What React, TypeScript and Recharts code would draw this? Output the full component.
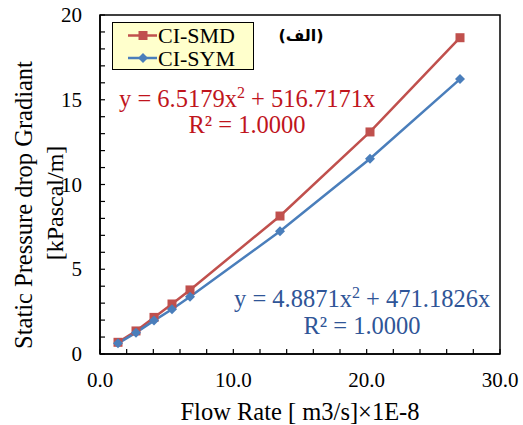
import { Legend, Line, LineChart, ReferenceArea, XAxis, YAxis } from 'recharts'

const flowRate = [1.35, 2.7, 4.05, 5.4, 6.75, 13.5, 20.25, 27.0]
const smdGradient = [0.69, 1.36, 2.16, 2.95, 3.78, 8.14, 13.1, 18.66]
const symGradient = [0.63, 1.26, 1.97, 2.64, 3.38, 7.24, 11.52, 16.22]
const xTicks = [0, 2, 4, 6, 8, 10, 12, 14, 16, 18, 20, 22, 24, 26, 28, 30]
const yTicks = [0, 1, 2, 3, 4, 5, 6, 7, 8, 9, 10, 11, 12, 13, 14, 15, 16, 17, 18, 19, 20]

const RED = '#c0504d'
const BLUE = '#4a7ebb'
const RED_TEXT = '#c0141c'
const BLUE_TEXT = '#2f5597'
const FONT = '"Liberation Serif", "Times New Roman", serif'

const data = flowRate.map((x, i) => ({ x, smd: smdGradient[i], sym: symGradient[i] }))

function Square({ cx, cy, color, size = 9 }: any) {
  if (cx == null || cy == null) return <g />
  return <rect x={cx - size / 2} y={cy - size / 2} width={size} height={size} fill={color} />
}

function Diamond({ cx, cy, color, size = 5 }: any) {
  if (cx == null || cy == null) return <g />
  return (
    <polygon
      points={`${cx},${cy - size} ${cx + size},${cy} ${cx},${cy + size} ${cx - size},${cy}`}
      fill={color}
    />
  )
}

function XTick({ x, y, payload }: any) {
  const v = payload.value as number
  return (
    <g>
      <line x1={x} y1={y} x2={x} y2={y - 5} stroke="#000" strokeWidth={1.2} />
      {v % 10 === 0 && (
        <text x={x} y={y + 33} textAnchor="middle" fontFamily={FONT} fontSize={21} fill="#000">
          {v.toFixed(1)}
        </text>
      )}
    </g>
  )
}

function YTick({ x, y, payload }: any) {
  const v = payload.value as number
  return (
    <g>
      <line x1={x} y1={y} x2={x + 5} y2={y} stroke="#000" strokeWidth={1.2} />
      {v % 5 === 0 && (
        <text x={x - 18} y={y + 7} textAnchor="end" fontFamily={FONT} fontSize={21} fill="#000">
          {v}
        </text>
      )}
    </g>
  )
}

function LegendBox() {
  return (
    <div style={{ position: 'relative', width: 142, height: 48, background: '#ffffcc', border: '1px solid #000', boxSizing: 'border-box' }}>
      <svg width={142} height={48} style={{ position: 'absolute', left: -1, top: -1, overflow: 'visible' }}>
        <line x1={16} y1={13.5} x2={45} y2={13.5} stroke={RED} strokeWidth={2.5} />
        <Square cx={31} cy={13.5} color={RED} />
        <text x={46} y={20.5} fontFamily={FONT} fontSize={22} fill="#000">CI-SMD</text>
        <line x1={16} y1={36} x2={45} y2={36} stroke={BLUE} strokeWidth={2.5} />
        <Diamond cx={31} cy={36} color={BLUE} />
        <text x={46} y={44} fontFamily={FONT} fontSize={22} fill="#000">CI-SYM</text>
      </svg>
    </div>
  )
}

export default function App() {
  return (
    <div style={{ position: 'absolute', left: 0, top: 0, width: 523, height: 425, background: '#fff' }}>
      <LineChart width={523} height={425} data={data} margin={{ top: 15, right: 23, left: 0, bottom: 0 }}>
        <XAxis
          type="number"
          dataKey="x"
          domain={[0, 30]}
          ticks={xTicks}
          interval={0}
          height={71}
          tickSize={0}
          tickMargin={0}
          tickLine={false}
          tick={<XTick />}
          axisLine={{ stroke: '#000', strokeWidth: 1.5 }}
        />
        <YAxis
          type="number"
          domain={[0, 20]}
          ticks={yTicks}
          interval={0}
          width={100}
          tickSize={0}
          tickMargin={0}
          tickLine={false}
          tick={<YTick />}
          axisLine={{ stroke: '#000', strokeWidth: 1.5 }}
        />
        <ReferenceArea x1={0} x2={30} y1={0} y2={20} fill="none" stroke="#000" strokeWidth={1.5} ifOverflow="visible" />
        <Legend
          layout="horizontal"
          verticalAlign="middle"
          align="center"
          content={() => <LegendBox />}
          wrapperStyle={{ left: 112, top: 22, width: 142, height: 48 }}
        />
        <Line
          dataKey="smd"
          stroke={RED}
          strokeWidth={2.5}
          isAnimationActive={false}
          dot={(p: any) => <Square key={`s${p.index}`} cx={p.cx} cy={p.cy} color={RED} />}
          activeDot={false}
        />
        <Line
          dataKey="sym"
          stroke={BLUE}
          strokeWidth={2.5}
          isAnimationActive={false}
          dot={(p: any) => <Diamond key={`d${p.index}`} cx={p.cx} cy={p.cy} color={BLUE} />}
          activeDot={false}
        />
      </LineChart>
      <svg width={523} height={425} style={{ position: 'absolute', left: 0, top: 0, pointerEvents: 'none' }}>
        <text x={301} y={41} textAnchor="middle" fontFamily='"DejaVu Sans", sans-serif' fontWeight="bold" fontSize={16} fill="#000" direction="ltr">
          (الف)
        </text>
        <text x={119} y={107} fontFamily={FONT} fontSize={24.5} fill={RED_TEXT}>
          y = 6.5179x<tspan dy={-9} fontSize={16}>2</tspan><tspan dy={9}> + 516.7171x</tspan>
        </text>
        <text x={247} y={133} textAnchor="middle" fontFamily={FONT} fontSize={24.5} fill={RED_TEXT}>
          R² = 1.0000
        </text>
        <text x={234} y={306.5} fontFamily={FONT} fontSize={24.5} fill={BLUE_TEXT}>
          y = 4.8871x<tspan dy={-9} fontSize={16}>2</tspan><tspan dy={9}> + 471.1826x</tspan>
        </text>
        <text x={362} y={334} textAnchor="middle" fontFamily={FONT} fontSize={24.5} fill={BLUE_TEXT}>
          R² = 1.0000
        </text>
        <text x={300} y={420} textAnchor="middle" fontFamily={FONT} fontSize={24.5} fill="#000">
          Flow Rate [ m3/s]×1E-8
        </text>
        <text transform="translate(32,205) rotate(-90)" textAnchor="middle" fontFamily={FONT} fontSize={24.5} fill="#000">
          Static Pressure drop Gradiant
        </text>
        <text transform="translate(63,203) rotate(-90)" textAnchor="middle" fontFamily={FONT} fontSize={24} fill="#000">
          [kPascal/m]
        </text>
      </svg>
    </div>
  )
}
